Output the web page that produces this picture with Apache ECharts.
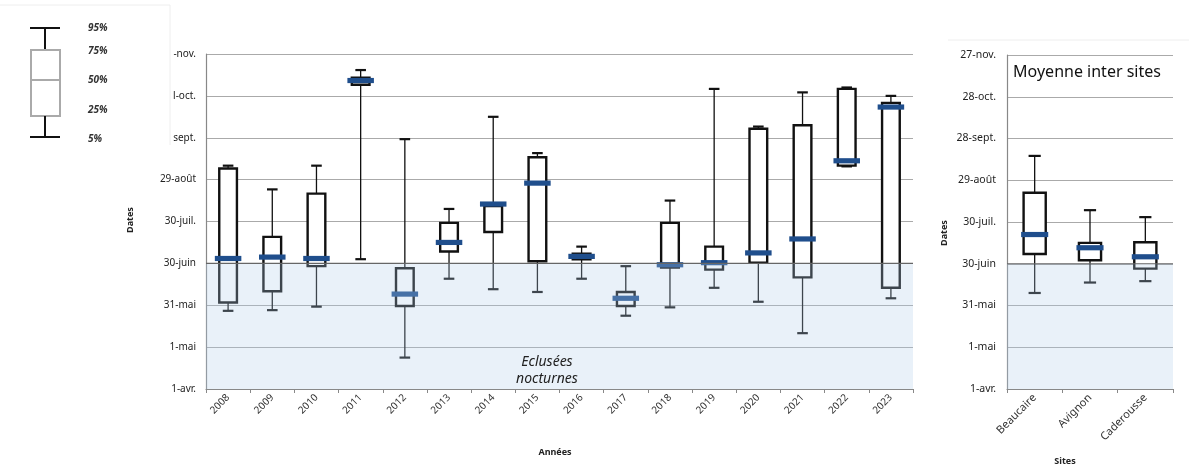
<!DOCTYPE html>
<html><head><meta charset="utf-8">
<script src="https://cdn.jsdelivr.net/npm/echarts@6/dist/echarts.min.js"></script>
<style>html,body{margin:0;padding:0;background:#fff}#c{width:1189px;height:468px}</style>
</head><body><div id="c"></div>
<script>
// Values: days counted from 1 April
const years = ['2008','2009','2010','2011','2012','2013','2014','2015','2016','2017','2018','2019','2020','2021','2022','2023'];
const yearP95 = [160,143,160,228.5,179,129,195,169,102,88,135,215,188,212.5,216,210];
const yearP75 = [158,109,140,223,86.5,119,131,166,97,69.5,119,102,186.5,189,215,205];
const yearP50 = [93.5,94.5,93.5,221,68,105,132.5,147.5,95,65,89,90.5,97.5,107.5,163.5,202];
const yearP25 = [62,70,88,218,59.5,98.5,112.5,91.5,93,59.5,87,85.5,90.5,80,160,72.5];
const yearP5  = [56,56.5,59,93,22.5,79,71.5,69.5,79,52.5,58.5,72.5,62.5,40,159.5,65];

const sites = ['Beaucaire','Avignon','Caderousse'];
const siteP95 = [167.5,128.5,123.5];
const siteP75 = [141,105,105.5];
const siteP50 = [111,101.5,95];
const siteP25 = [97,92.5,86.5];
const siteP5  = [69,76.5,77.5];

const mainTickLabels = ['1-avr.','1-mai','31-mai','30-juin','30-juil.','29-août','sept.','l-oct.','-nov.'];
const siteTickLabels = ['1-avr.','1-mai','31-mai','30-juin','30-juil.','29-août','28-sept.','28-oct.','27-nov.'];
const nightShade = [0, 90]; // "Eclusées nocturnes" period

const FONT = 'Noto Sans';
const chart = echarts.init(document.getElementById('c'), null, {renderer:'canvas'});

function boxData(p5,p25,p50,p75,p95){
  return p5.map((v,i)=>[i,v,p25[i],p50[i],p75[i],p95[i]]);
}
function makeRender(boxFrac, capFrac, medFrac){
  return function(params, api){
    const i = api.value(0);
    const bw = api.size([1,0])[0];
    const lo = api.coord([i, api.value(1)]);
    const q1 = api.coord([i, api.value(2)]);
    const md = api.coord([i, api.value(3)]);
    const q3 = api.coord([i, api.value(4)]);
    const hi = api.coord([i, api.value(5)]);
    const cx = lo[0];
    const bwBox = bw*boxFrac, bwCap = bw*capFrac, bwMed = bw*medFrac;
    const blk = {stroke:'#111', lineWidth:1.3};
    const cap = {stroke:'#111', lineWidth:2.2};
    return {type:'group', children:[
      {type:'line', shape:{x1:cx,y1:hi[1],x2:cx,y2:q3[1]}, style:blk},
      {type:'line', shape:{x1:cx,y1:q1[1],x2:cx,y2:lo[1]}, style:blk},
      {type:'line', shape:{x1:cx-bwCap/2,y1:hi[1],x2:cx+bwCap/2,y2:hi[1]}, style:cap},
      {type:'line', shape:{x1:cx-bwCap/2,y1:lo[1],x2:cx+bwCap/2,y2:lo[1]}, style:cap},
      {type:'rect', shape:{x:cx-bwBox/2,y:q3[1],width:bwBox,height:Math.max(q1[1]-q3[1],1)}, style:{fill:'#fff',stroke:'#111',lineWidth:2.4}},
      {type:'rect', shape:{x:cx-bwMed/2,y:md[1]-2.6,width:bwMed,height:5.2}, style:{fill:'#1F4E8C'}}
    ]};
  };
}
function shadeRender(params, api){
  const cs = params.coordSys;
  const top = api.coord([0, api.value(1)])[1];
  const bot = api.coord([0, api.value(0)])[1];
  return {type:'group', children:[
    {type:'rect', shape:{x:cs.x,y:top,width:cs.width,height:bot-top}, style:{fill:'rgba(175,205,232,0.28)'}},
    {type:'line', shape:{x1:cs.x,y1:top,x2:cs.x+cs.width,y2:top}, style:{stroke:'#666',lineWidth:1.2}}
  ]};
}

const yBase = {
  type:'value', min:0, max:240, interval:30,
  axisLine:{show:true, lineStyle:{color:'#888', width:1.2}},
  axisTick:{show:false},
  splitLine:{show:true, lineStyle:{color:'#aaa', width:1.2}},
};

const option = {
  animation:false,
  backgroundColor:'#fff',
  grid:[
    {left:206, right:276, top:54, bottom:79},
    {left:1007, right:16, top:55, bottom:79}
  ],
  xAxis:[
    {type:'category', gridIndex:0, data:years, boundaryGap:true,
     axisLine:{lineStyle:{color:'#888', width:1.2}},
     axisTick:{show:true, alignWithLabel:false, length:4, lineStyle:{color:'#888'}},
     axisLabel:{rotate:45, fontSize:10, color:'#333', fontFamily:FONT, margin:7, interval:0}},
    {type:'category', gridIndex:1, data:sites, boundaryGap:true,
     axisLine:{lineStyle:{color:'#888', width:1.2}},
     axisTick:{show:true, length:4, lineStyle:{color:'#888'}},
     axisLabel:{rotate:45, fontSize:11, color:'#333', fontFamily:FONT, margin:7, interval:0}}
  ],
  yAxis:[
    Object.assign({}, yBase, {gridIndex:0,
      axisLabel:{fontSize:10, color:'#222', fontFamily:FONT, margin:10,
        formatter:v=>mainTickLabels[Math.round(v/30)]}}),
    Object.assign({}, yBase, {gridIndex:1,
      axisLabel:{fontSize:10.5, color:'#222', fontFamily:FONT, margin:11,
        formatter:v=>siteTickLabels[Math.round(v/30)]}})
  ],
  series:[
    {type:'custom', xAxisIndex:0, yAxisIndex:0, z:2, renderItem:makeRender(0.40,0.24,0.60),
     data:boxData(yearP5,yearP25,yearP50,yearP75,yearP95)},
    {type:'custom', xAxisIndex:1, yAxisIndex:1, z:2, renderItem:makeRender(0.40,0.22,0.49),
     data:boxData(siteP5,siteP25,siteP50,siteP75,siteP95)},
    {type:'custom', xAxisIndex:0, yAxisIndex:0, z:5, silent:true, renderItem:shadeRender, data:[nightShade]},
    {type:'custom', xAxisIndex:1, yAxisIndex:1, z:5, silent:true, renderItem:shadeRender, data:[nightShade]}
  ],
  graphic:[
    // frames
    {type:'line', shape:{x1:0,y1:5,x2:170,y2:5}, style:{stroke:'#eee',lineWidth:1}},
    {type:'line', shape:{x1:170,y1:5,x2:170,y2:145}, style:{stroke:'#eee',lineWidth:1}},
    {type:'line', shape:{x1:948,y1:40,x2:1189,y2:40}, style:{stroke:'#eee',lineWidth:1}},
    // legend
    {type:'line', shape:{x1:30,y1:28,x2:60,y2:28}, style:{stroke:'#111',lineWidth:2}},
    {type:'line', shape:{x1:45,y1:28,x2:45,y2:50}, style:{stroke:'#111',lineWidth:2}},
    {type:'rect', shape:{x:31,y:50,width:29,height:66}, style:{fill:'#fff',stroke:'#aaa',lineWidth:2}},
    {type:'line', shape:{x1:31,y1:80,x2:60,y2:80}, style:{stroke:'#aaa',lineWidth:2}},
    {type:'line', shape:{x1:45,y1:116,x2:45,y2:137}, style:{stroke:'#111',lineWidth:2}},
    {type:'line', shape:{x1:30,y1:137,x2:60,y2:137}, style:{stroke:'#111',lineWidth:2}},
    {type:'text', left:88, top:23, style:{text:'95%', font:'italic bold 10px "'+FONT+'"', fill:'#333'}},
    {type:'text', left:88, top:46, style:{text:'75%', font:'italic bold 10px "'+FONT+'"', fill:'#333'}},
    {type:'text', left:88, top:75, style:{text:'50%', font:'italic bold 10px "'+FONT+'"', fill:'#333'}},
    {type:'text', left:88, top:105, style:{text:'25%', font:'italic bold 10px "'+FONT+'"', fill:'#333'}},
    {type:'text', left:88, top:134, style:{text:'5%', font:'italic bold 10px "'+FONT+'"', fill:'#333'}},
    // axis titles
    {type:'text', x:130, y:220, rotation:Math.PI/2, style:{text:'Dates', font:'bold 9px "'+FONT+'"', fill:'#222', textAlign:'center', textVerticalAlign:'middle'}},
    {type:'text', x:944, y:233, rotation:Math.PI/2, style:{text:'Dates', font:'bold 9px "'+FONT+'"', fill:'#222', textAlign:'center', textVerticalAlign:'middle'}},
    {type:'text', x:555, y:452, style:{text:'Années', font:'bold 9px "'+FONT+'"', fill:'#222', textAlign:'center', textVerticalAlign:'middle'}},
    {type:'text', x:1065, y:461, style:{text:'Sites', font:'bold 9px "'+FONT+'"', fill:'#222', textAlign:'center', textVerticalAlign:'middle'}},
    // annotations
    {type:'text', x:1087, y:72, z:20, style:{text:'Moyenne inter sites', font:'16px "'+FONT+'"', fill:'#111', textAlign:'center', textVerticalAlign:'middle'}},
    {type:'text', x:547, y:362, z:20, style:{text:'Eclusées', font:'italic 14px "'+FONT+'"', fill:'#222', textAlign:'center', textVerticalAlign:'middle'}},
    {type:'text', x:547, y:379, z:20, style:{text:'nocturnes', font:'italic 14px "'+FONT+'"', fill:'#222', textAlign:'center', textVerticalAlign:'middle'}}
  ]
};
chart.setOption(option);
</script>
</body></html>
